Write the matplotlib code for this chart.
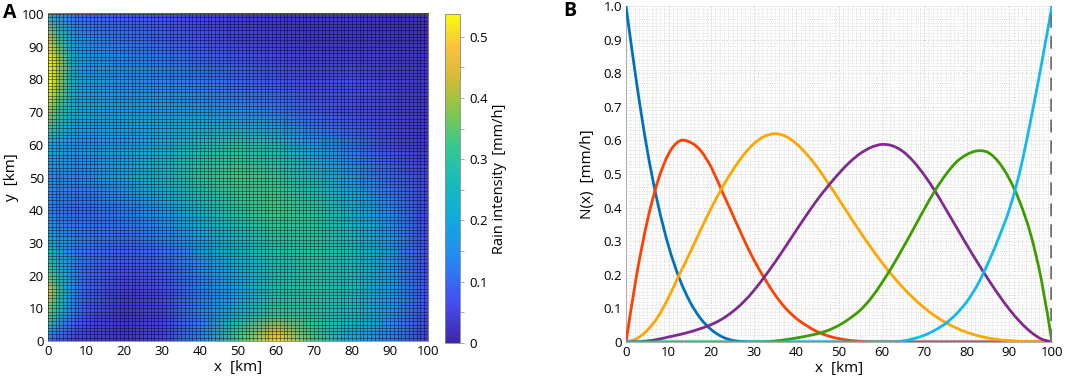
import numpy as np
import matplotlib
matplotlib.use("Agg")
import matplotlib.pyplot as plt
from matplotlib.colors import LinearSegmentedColormap
from matplotlib.image import NonUniformImage
from matplotlib.patches import PathPatch
from matplotlib.path import Path
from matplotlib.ticker import MultipleLocator

plt.rcParams['font.family'] = ['Open Sans', 'DejaVu Sans']

# ---- panel A: rain field (mm/h) ----
grid_x = [0, 3, 6, 10, 20, 30, 40, 50, 60, 70, 80, 90, 100]
grid_y = [0, 3, 8, 15, 22, 30, 40, 50, 60, 70, 78, 85, 92, 100]
rain_rows = [
    [0.10, 0.07, 0.05, 0.04, 0.03, 0.05, 0.13, 0.33, 0.50, 0.33, 0.20, 0.12, 0.04],  # y=0
    [0.19, 0.12, 0.08, 0.05, 0.03, 0.05, 0.13, 0.31, 0.43, 0.31, 0.22, 0.14, 0.05],  # y=3
    [0.35, 0.23, 0.13, 0.07, 0.03, 0.05, 0.13, 0.23, 0.31, 0.29, 0.25, 0.17, 0.06],  # y=8
    [0.45, 0.29, 0.16, 0.09, 0.04, 0.06, 0.12, 0.19, 0.28, 0.29, 0.26, 0.18, 0.07],  # y=15
    [0.31, 0.22, 0.15, 0.10, 0.07, 0.08, 0.14, 0.21, 0.27, 0.29, 0.26, 0.17, 0.06],  # y=22
    [0.21, 0.17, 0.14, 0.12, 0.10, 0.12, 0.18, 0.24, 0.29, 0.30, 0.26, 0.17, 0.06],  # y=30
    [0.13, 0.11, 0.10, 0.10, 0.12, 0.17, 0.24, 0.30, 0.33, 0.30, 0.23, 0.14, 0.05],  # y=40
    [0.15, 0.15, 0.14, 0.14, 0.19, 0.24, 0.30, 0.33, 0.31, 0.25, 0.17, 0.10, 0.05],  # y=50
    [0.21, 0.19, 0.17, 0.16, 0.18, 0.22, 0.26, 0.29, 0.26, 0.17, 0.11, 0.06, 0.03],  # y=60
    [0.40, 0.29, 0.22, 0.19, 0.18, 0.18, 0.17, 0.15, 0.12, 0.08, 0.06, 0.05, 0.03],  # y=70
    [0.53, 0.38, 0.23, 0.18, 0.15, 0.14, 0.12, 0.10, 0.08, 0.06, 0.07, 0.05, 0.03],  # y=78
    [0.54, 0.40, 0.23, 0.17, 0.14, 0.12, 0.10, 0.08, 0.06, 0.05, 0.05, 0.04, 0.03],  # y=85
    [0.45, 0.30, 0.18, 0.14, 0.11, 0.09, 0.07, 0.05, 0.04, 0.03, 0.03, 0.03, 0.02],  # y=92
    [0.19, 0.15, 0.12, 0.10, 0.08, 0.07, 0.05, 0.04, 0.03, 0.03, 0.03, 0.02, 0.02],  # y=100
]
rain_max = 0.537
cbar_ticks = [0, 0.1, 0.2, 0.3, 0.4, 0.5]
km_ticks = [0, 10, 20, 30, 40, 50, 60, 70, 80, 90, 100]

# ---- panel B: basis functions ----
x_km = [0, 2.5, 5, 7.5, 10, 12.5, 15, 17.5, 20, 22.5, 25, 27.5, 30, 32.5, 35, 37.5,
        40, 42.5, 45, 47.5, 50, 52.5, 55, 57.5, 60, 62.5, 65, 67.5, 70, 72.5, 75,
        77.5, 80, 82.5, 85, 87.5, 90, 92.5, 95, 97.5, 100]
n_blue = [1.0, 0.77, 0.57, 0.41, 0.285, 0.19, 0.12, 0.07, 0.037, 0.016, 0.005, 0.001,
          0, 0, 0, 0, 0, 0, 0, 0, 0, 0, 0, 0, 0, 0, 0, 0, 0, 0, 0, 0, 0, 0, 0, 0, 0,
          0, 0, 0, 0]
n_red = [0, 0.2, 0.36, 0.48, 0.56, 0.598, 0.595, 0.57, 0.52, 0.45, 0.38, 0.31, 0.245,
         0.19, 0.14, 0.10, 0.07, 0.048, 0.03, 0.018, 0.01, 0.005, 0.002, 0, 0, 0, 0,
         0, 0, 0, 0, 0, 0, 0, 0, 0, 0, 0, 0, 0, 0]
n_orange = [0, 0.01, 0.035, 0.075, 0.133, 0.2, 0.265, 0.333, 0.398, 0.458, 0.51,
            0.555, 0.59, 0.612, 0.62, 0.612, 0.59, 0.558, 0.518, 0.472, 0.424,
            0.375, 0.327, 0.281, 0.238, 0.198, 0.162, 0.13, 0.102, 0.078, 0.058,
            0.042, 0.029, 0.019, 0.012, 0.007, 0.004, 0.002, 0.001, 0, 0]
n_purple = [0, 0.0005, 0.003, 0.008, 0.015, 0.022, 0.03, 0.04, 0.052, 0.068, 0.09,
            0.118, 0.153, 0.194, 0.238, 0.285, 0.333, 0.38, 0.425, 0.465, 0.502,
            0.535, 0.561, 0.579, 0.588, 0.584, 0.567, 0.537, 0.497, 0.45, 0.397,
            0.343, 0.289, 0.237, 0.187, 0.14, 0.097, 0.06, 0.03, 0.009, 0]
n_green = [0, 0, 0, 0, 0, 0, 0, 0, 0, 0, 0, 0, 0, 0, 0.003, 0.007, 0.012, 0.018,
           0.025, 0.035, 0.05, 0.07, 0.095, 0.13, 0.175, 0.225, 0.28, 0.337, 0.395,
           0.45, 0.497, 0.535, 0.558, 0.569, 0.564, 0.535, 0.485, 0.415, 0.32,
           0.185, 0]
n_cyan = [0, 0, 0, 0, 0, 0, 0, 0, 0, 0, 0, 0, 0, 0, 0, 0, 0, 0, 0, 0, 0, 0, 0, 0,
          0, 0, 0.003, 0.01, 0.02, 0.035, 0.055, 0.083, 0.12, 0.17, 0.235, 0.31,
          0.395, 0.51, 0.66, 0.825, 1.0]
curves = [n_blue, n_red, n_orange, n_purple, n_green, n_cyan]
curve_colors = ['#0072BD', '#FF4000', '#FFA500', '#7E2A8E', '#3C9C00', '#12B8EE']
n_ticks = [0, 0.1, 0.2, 0.3, 0.4, 0.5, 0.6, 0.7, 0.8, 0.9, 1.0]
n_labels = ['0', '0.1', '0.2', '0.3', '0.4', '0.5', '0.6', '0.7', '0.8', '0.9', '1.0']

parula = LinearSegmentedColormap.from_list('parula', [
    (0.00, (0.2422, 0.1504, 0.6603)),
    (0.12, (0.2780, 0.3000, 0.9400)),
    (0.25, (0.1540, 0.5300, 0.9500)),
    (0.38, (0.0600, 0.6700, 0.8600)),
    (0.50, (0.1000, 0.7400, 0.7200)),
    (0.60, (0.2200, 0.7800, 0.5600)),
    (0.70, (0.5000, 0.7800, 0.3000)),
    (0.80, (0.8200, 0.7300, 0.2200)),
    (0.90, (0.9900, 0.7500, 0.2300)),
    (1.00, (0.9763, 0.9831, 0.0538)),
])


def smooth_path(xs, ys):
    # Catmull-Rom through the read points, drawn as cubic Bezier segments
    xs = np.asarray(xs, float)
    ys = np.asarray(ys, float)
    verts = [(xs[0], ys[0])]
    codes = [Path.MOVETO]
    n = len(xs)
    for i in range(n - 1):
        x0, y0 = (xs[i - 1], ys[i - 1]) if i > 0 else (xs[i], ys[i])
        x3, y3 = (xs[i + 2], ys[i + 2]) if i + 2 < n else (xs[i + 1], ys[i + 1])
        c1 = (xs[i] + (xs[i + 1] - x0) / 6, ys[i] + (ys[i + 1] - y0) / 6)
        c2 = (xs[i + 1] - (x3 - xs[i]) / 6, ys[i + 1] - (y3 - ys[i]) / 6)
        verts += [c1, c2, (xs[i + 1], ys[i + 1])]
        codes += [Path.CURVE4] * 3
    return Path(verts, codes)


fig = plt.figure(figsize=(10.65, 3.79), dpi=100)

# ---- panel A ----
ax_a = fig.add_axes([0.0451, 0.1003, 0.3568, 0.8627])
field = NonUniformImage(ax_a, interpolation='bilinear', extent=(0, 100, 0, 100),
                        cmap=parula)
field.set_data(np.array(grid_x, float), np.array(grid_y, float), np.array(rain_rows))
field.set_clim(0, rain_max)
ax_a.add_image(field)
ax_a.set_xlim(0, 100)
ax_a.set_ylim(0, 100)
ax_a.set_xticks(km_ticks)
ax_a.set_yticks(km_ticks)
ax_a.xaxis.set_minor_locator(MultipleLocator(1))
ax_a.yaxis.set_minor_locator(MultipleLocator(1))
ax_a.grid(which='both', color='black', linewidth=0.45, alpha=0.65)
ax_a.set_axisbelow(False)
ax_a.tick_params(which='both', length=0, labelsize=9.5, pad=3)
ax_a.set_xlabel('x  [km]', fontsize=11, labelpad=1)
ax_a.set_ylabel('y  [km]', fontsize=11, labelpad=2)
for s in ax_a.spines.values():
    s.set_color('#888888')
    s.set_linewidth(0.6)

cax = fig.add_axes([0.4178, 0.095, 0.0141, 0.868])
cb = fig.colorbar(field, cax=cax, ticks=cbar_ticks)
cb.ax.set_yticklabels(['0', '0.1', '0.2', '0.3', '0.4', '0.5'])
cb.ax.yaxis.set_minor_locator(MultipleLocator(0.05))
cb.ax.tick_params(which='both', labelsize=9.5, length=3, width=0.5, color='#888888')
cb.outline.set_edgecolor('#888888')
cb.outline.set_linewidth(0.6)
cb.set_label('Rain intensity  [mm/h]', fontsize=10.5, labelpad=3)

fig.text(0.003, 0.966, 'A', fontsize=14, fontweight='bold', va='center')

# ---- panel B ----
ax_b = fig.add_axes([0.5878, 0.0976, 0.4, 0.8866])
for vals, col in zip(curves, curve_colors):
    ax_b.add_patch(PathPatch(smooth_path(x_km, vals), facecolor='none', edgecolor=col,
                             linewidth=2.0, capstyle='round', joinstyle='round',
                             zorder=3))
ax_b.axvline(100, color='#707070', linewidth=2.6, linestyle=(0, (3.6, 2.2)), zorder=4)
ax_b.set_xlim(0, 100)
ax_b.set_ylim(0, 1.0)
ax_b.set_xticks(km_ticks)
ax_b.set_yticks(n_ticks)
ax_b.set_yticklabels(n_labels)
ax_b.xaxis.set_minor_locator(MultipleLocator(1))
ax_b.yaxis.set_minor_locator(MultipleLocator(0.01))
ax_b.grid(which='minor', color='#d6d6d6', linestyle=':', linewidth=0.6)
ax_b.grid(which='major', color='#c8c8c8', linestyle=':', linewidth=0.7)
ax_b.tick_params(which='both', length=0, labelsize=9.5, pad=3)
ax_b.set_xlabel('x  [km]', fontsize=11, labelpad=1)
ax_b.set_ylabel('N(x)  [mm/h]', fontsize=11, labelpad=6)
ax_b.spines['top'].set_visible(False)
ax_b.spines['right'].set_visible(False)
ax_b.spines['left'].set_color('#b0b0b0')
ax_b.spines['bottom'].set_color('#b0b0b0')

fig.text(0.529, 0.970, 'B', fontsize=14, fontweight='bold', va='center')

fig.savefig('out.png', dpi=100)
